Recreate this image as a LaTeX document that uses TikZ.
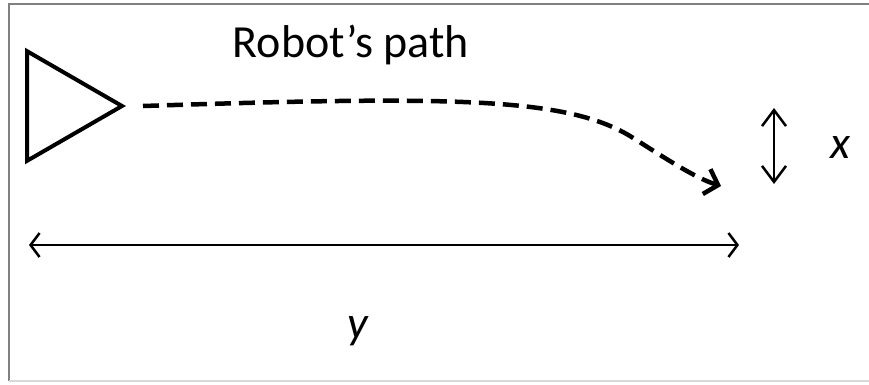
\documentclass[tikz,border=0pt]{standalone}
\usepackage{fontspec}
\setmainfont{Carlito}
\usetikzlibrary{arrows.meta,shapes.geometric}

\begin{document}
\begin{tikzpicture}[x=1pt, y=-1pt,
    frame/.style={draw=gray, line width=2pt},
    robot/.style={draw, line width=4pt, line join=miter, isosceles triangle, isosceles triangle apex angle=60, minimum height=95pt, inner sep=0pt, anchor=apex},
    path/.style={-{Straight Barb[length=12pt, width=26pt]}, line width=4.5pt, dash pattern=on 16pt off 8pt},
    dim/.style={{Straight Barb[length=9pt, width=24pt]}-{Straight Barb[length=9pt, width=24pt]}, line width=2.5pt},
    tall dim/.style={{Straight Barb[length=16pt, width=24pt]}-{Straight Barb[length=16pt, width=24pt]}, line width=2.5pt},
    label/.style={font=\fontsize{46}{52}\selectfont\itshape}
]
\useasboundingbox (0,0) rectangle (869,384);
\draw[frame] (9,381) -- (9,4) -- (869,4);
\draw[draw=gray!30, line width=1.5pt] (9,381) -- (869,381);

\node[robot] at (126,106) (bot) {};
\node[font=\fontsize{46}{52}\selectfont] at (351,45) (title) {Robot’s path};
\draw[path] (143,106) .. controls (450,96) and (565,97) .. (630,136) .. controls (665,158) and (695,178) .. (721,186);

\coordinate (ytop) at (774,108);
\coordinate (ybot) at (774,184);
\draw[tall dim] (ytop) -- (ybot);
\node[label] at (840,148) (xlab) {x};

\coordinate (yleft) at (29,245);
\coordinate (yright) at (739,245);
\draw[dim] (yleft) -- (yright);
\node[label] at (358,331) (ylab) {y};
\end{tikzpicture}
\end{document}
